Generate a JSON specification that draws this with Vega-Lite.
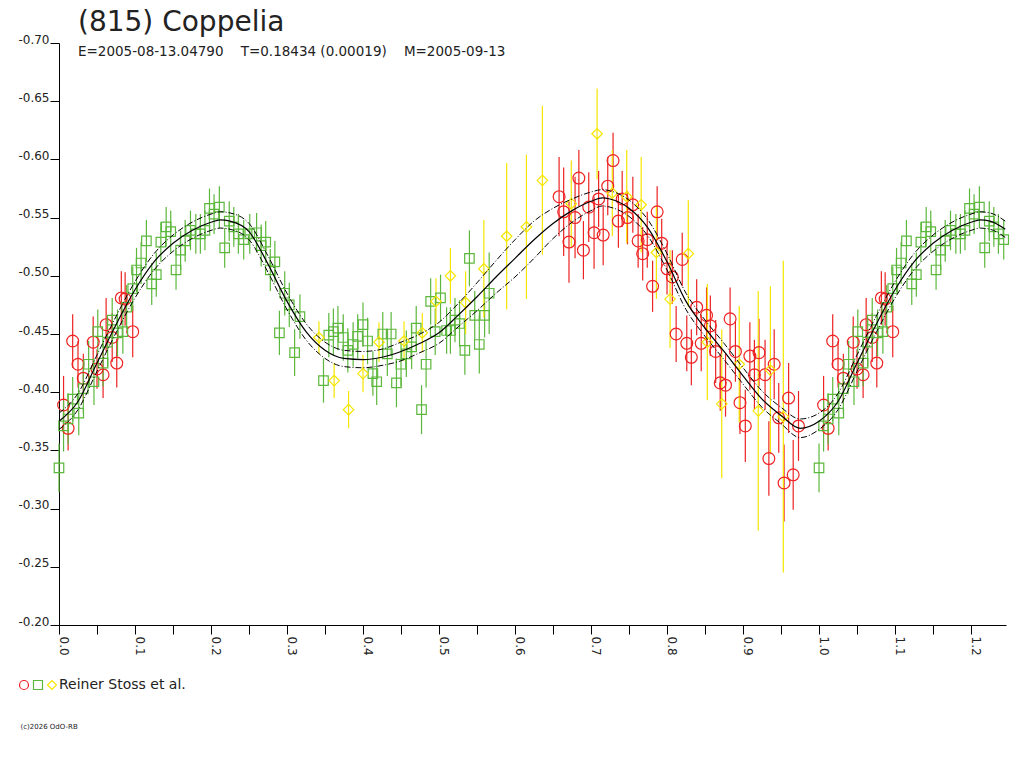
{
  "$schema": "https://vega.github.io/schema/vega-lite/v6.json",
  "width": 947,
  "height": 582,
  "autosize": "none",
  "padding": {"left": 59, "top": 43, "right": 18, "bottom": 143},
  "background": "white",
  "config": {
    "view": {"stroke": null},
    "font": "DejaVu Sans",
    "axis": {
      "domainColor": "#000",
      "tickColor": "#000",
      "labelColor": "#222",
      "labelFont": "DejaVu Sans",
      "labelFontSize": 12,
      "grid": false,
      "labelOverlap": false,
      "labelFlush": false
    },
    "legend": {
      "orient": "none",
      "legendX": -42,
      "legendY": 635,
      "direction": "horizontal",
      "labelFont": "DejaVu Sans",
      "labelFontSize": 14,
      "labelColor": "#222",
      "labelOffset": 0,
      "columnPadding": -3,
      "symbolSize": 81,
      "symbolStrokeWidth": 1.2,
      "padding": 0
    }
  },
  "title": {
    "text": "(815) Coppelia",
    "subtitle": "E=2005-08-13.04790\u00a0\u00a0\u00a0\u00a0T=0.18434 (0.00019)\u00a0\u00a0\u00a0\u00a0M=2005-09-13",
    "anchor": "start",
    "frame": "group",
    "dx": 19,
    "offset": -25,
    "font": "DejaVu Sans",
    "subtitleFont": "DejaVu Sans",
    "fontSize": 28,
    "subtitleFontSize": 13.5,
    "fontWeight": "normal",
    "color": "#222",
    "subtitleColor": "#222",
    "subtitlePadding": 8
  },
  "datasets": {
    "obs": [
      {"p": 0.006, "m": -0.389, "e": 0.025, "s": "a"},
      {"p": 0.012, "m": -0.369, "e": 0.019, "s": "a"},
      {"p": 0.018, "m": -0.444, "e": 0.023, "s": "a"},
      {"p": 0.025, "m": -0.424, "e": 0.020, "s": "a"},
      {"p": 0.032, "m": -0.412, "e": 0.021, "s": "a"},
      {"p": 0.045, "m": -0.443, "e": 0.022, "s": "a"},
      {"p": 0.050, "m": -0.420, "e": 0.017, "s": "a"},
      {"p": 0.058, "m": -0.415, "e": 0.020, "s": "a"},
      {"p": 0.062, "m": -0.458, "e": 0.023, "s": "a"},
      {"p": 0.070, "m": -0.447, "e": 0.021, "s": "a"},
      {"p": 0.076, "m": -0.425, "e": 0.021, "s": "a"},
      {"p": 0.082, "m": -0.481, "e": 0.023, "s": "a"},
      {"p": 0.087, "m": -0.480, "e": 0.023, "s": "a"},
      {"p": 0.097, "m": -0.452, "e": 0.022, "s": "a"},
      {"p": 0.658, "m": -0.568, "e": 0.034, "s": "a"},
      {"p": 0.664, "m": -0.555, "e": 0.038, "s": "a"},
      {"p": 0.671, "m": -0.529, "e": 0.035, "s": "a"},
      {"p": 0.679, "m": -0.550, "e": 0.035, "s": "a"},
      {"p": 0.684, "m": -0.584, "e": 0.024, "s": "a"},
      {"p": 0.690, "m": -0.522, "e": 0.025, "s": "a"},
      {"p": 0.697, "m": -0.559, "e": 0.030, "s": "a"},
      {"p": 0.704, "m": -0.537, "e": 0.031, "s": "a"},
      {"p": 0.710, "m": -0.566, "e": 0.024, "s": "a"},
      {"p": 0.716, "m": -0.535, "e": 0.026, "s": "a"},
      {"p": 0.722, "m": -0.577, "e": 0.025, "s": "a"},
      {"p": 0.729, "m": -0.599, "e": 0.024, "s": "a"},
      {"p": 0.736, "m": -0.547, "e": 0.023, "s": "a"},
      {"p": 0.741, "m": -0.566, "e": 0.024, "s": "a"},
      {"p": 0.748, "m": -0.550, "e": 0.023, "s": "a"},
      {"p": 0.755, "m": -0.561, "e": 0.024, "s": "a"},
      {"p": 0.762, "m": -0.530, "e": 0.023, "s": "a"},
      {"p": 0.768, "m": -0.519, "e": 0.023, "s": "a"},
      {"p": 0.774, "m": -0.531, "e": 0.024, "s": "a"},
      {"p": 0.781, "m": -0.491, "e": 0.022, "s": "a"},
      {"p": 0.787, "m": -0.555, "e": 0.022, "s": "a"},
      {"p": 0.793, "m": -0.528, "e": 0.021, "s": "a"},
      {"p": 0.800, "m": -0.506, "e": 0.022, "s": "a"},
      {"p": 0.807, "m": -0.499, "e": 0.023, "s": "a"},
      {"p": 0.812, "m": -0.450, "e": 0.024, "s": "a"},
      {"p": 0.820, "m": -0.514, "e": 0.023, "s": "a"},
      {"p": 0.826, "m": -0.442, "e": 0.024, "s": "a"},
      {"p": 0.832, "m": -0.430, "e": 0.024, "s": "a"},
      {"p": 0.839, "m": -0.473, "e": 0.024, "s": "a"},
      {"p": 0.845, "m": -0.442, "e": 0.024, "s": "a"},
      {"p": 0.852, "m": -0.466, "e": 0.024, "s": "a"},
      {"p": 0.857, "m": -0.457, "e": 0.026, "s": "a"},
      {"p": 0.864, "m": -0.435, "e": 0.027, "s": "a"},
      {"p": 0.870, "m": -0.408, "e": 0.024, "s": "a"},
      {"p": 0.877, "m": -0.406, "e": 0.027, "s": "a"},
      {"p": 0.883, "m": -0.463, "e": 0.027, "s": "a"},
      {"p": 0.890, "m": -0.435, "e": 0.026, "s": "a"},
      {"p": 0.896, "m": -0.391, "e": 0.027, "s": "a"},
      {"p": 0.903, "m": -0.371, "e": 0.031, "s": "a"},
      {"p": 0.909, "m": -0.431, "e": 0.029, "s": "a"},
      {"p": 0.915, "m": -0.415, "e": 0.030, "s": "a"},
      {"p": 0.921, "m": -0.434, "e": 0.029, "s": "a"},
      {"p": 0.929, "m": -0.415, "e": 0.030, "s": "a"},
      {"p": 0.934, "m": -0.343, "e": 0.032, "s": "a"},
      {"p": 0.941, "m": -0.424, "e": 0.030, "s": "a"},
      {"p": 0.947, "m": -0.378, "e": 0.030, "s": "a"},
      {"p": 0.954, "m": -0.322, "e": 0.033, "s": "a"},
      {"p": 0.960, "m": -0.395, "e": 0.030, "s": "a"},
      {"p": 0.966, "m": -0.329, "e": 0.030, "s": "a"},
      {"p": 0.973, "m": -0.371, "e": 0.030, "s": "a"},
      {"p": 1.006, "m": -0.389, "e": 0.025, "s": "a"},
      {"p": 1.012, "m": -0.369, "e": 0.019, "s": "a"},
      {"p": 1.018, "m": -0.444, "e": 0.023, "s": "a"},
      {"p": 1.025, "m": -0.424, "e": 0.020, "s": "a"},
      {"p": 1.032, "m": -0.412, "e": 0.021, "s": "a"},
      {"p": 1.045, "m": -0.443, "e": 0.022, "s": "a"},
      {"p": 1.050, "m": -0.420, "e": 0.017, "s": "a"},
      {"p": 1.058, "m": -0.415, "e": 0.020, "s": "a"},
      {"p": 1.062, "m": -0.458, "e": 0.023, "s": "a"},
      {"p": 1.070, "m": -0.447, "e": 0.021, "s": "a"},
      {"p": 1.076, "m": -0.425, "e": 0.021, "s": "a"},
      {"p": 1.082, "m": -0.481, "e": 0.023, "s": "a"},
      {"p": 1.087, "m": -0.480, "e": 0.023, "s": "a"},
      {"p": 1.097, "m": -0.452, "e": 0.022, "s": "a"},
      {"p": 0.000, "m": -0.335, "e": 0.021, "s": "b"},
      {"p": 0.006, "m": -0.371, "e": 0.022, "s": "b"},
      {"p": 0.012, "m": -0.377, "e": 0.022, "s": "b"},
      {"p": 0.018, "m": -0.394, "e": 0.019, "s": "b"},
      {"p": 0.026, "m": -0.382, "e": 0.019, "s": "b"},
      {"p": 0.032, "m": -0.403, "e": 0.021, "s": "b"},
      {"p": 0.039, "m": -0.424, "e": 0.020, "s": "b"},
      {"p": 0.046, "m": -0.409, "e": 0.020, "s": "b"},
      {"p": 0.051, "m": -0.452, "e": 0.019, "s": "b"},
      {"p": 0.058, "m": -0.425, "e": 0.020, "s": "b"},
      {"p": 0.064, "m": -0.443, "e": 0.021, "s": "b"},
      {"p": 0.070, "m": -0.462, "e": 0.019, "s": "b"},
      {"p": 0.077, "m": -0.451, "e": 0.020, "s": "b"},
      {"p": 0.084, "m": -0.452, "e": 0.019, "s": "b"},
      {"p": 0.089, "m": -0.473, "e": 0.019, "s": "b"},
      {"p": 0.097, "m": -0.489, "e": 0.019, "s": "b"},
      {"p": 0.102, "m": -0.505, "e": 0.019, "s": "b"},
      {"p": 0.108, "m": -0.511, "e": 0.018, "s": "b"},
      {"p": 0.115, "m": -0.530, "e": 0.018, "s": "b"},
      {"p": 0.122, "m": -0.493, "e": 0.018, "s": "b"},
      {"p": 0.128, "m": -0.501, "e": 0.019, "s": "b"},
      {"p": 0.134, "m": -0.529, "e": 0.017, "s": "b"},
      {"p": 0.141, "m": -0.542, "e": 0.017, "s": "b"},
      {"p": 0.147, "m": -0.538, "e": 0.018, "s": "b"},
      {"p": 0.154, "m": -0.505, "e": 0.017, "s": "b"},
      {"p": 0.160, "m": -0.522, "e": 0.017, "s": "b"},
      {"p": 0.166, "m": -0.530, "e": 0.018, "s": "b"},
      {"p": 0.173, "m": -0.539, "e": 0.017, "s": "b"},
      {"p": 0.180, "m": -0.536, "e": 0.017, "s": "b"},
      {"p": 0.186, "m": -0.536, "e": 0.017, "s": "b"},
      {"p": 0.192, "m": -0.539, "e": 0.017, "s": "b"},
      {"p": 0.198, "m": -0.558, "e": 0.017, "s": "b"},
      {"p": 0.204, "m": -0.553, "e": 0.017, "s": "b"},
      {"p": 0.211, "m": -0.559, "e": 0.018, "s": "b"},
      {"p": 0.218, "m": -0.524, "e": 0.017, "s": "b"},
      {"p": 0.224, "m": -0.547, "e": 0.017, "s": "b"},
      {"p": 0.230, "m": -0.542, "e": 0.017, "s": "b"},
      {"p": 0.236, "m": -0.536, "e": 0.017, "s": "b"},
      {"p": 0.243, "m": -0.531, "e": 0.017, "s": "b"},
      {"p": 0.251, "m": -0.536, "e": 0.017, "s": "b"},
      {"p": 0.260, "m": -0.537, "e": 0.017, "s": "b"},
      {"p": 0.266, "m": -0.526, "e": 0.018, "s": "b"},
      {"p": 0.272, "m": -0.529, "e": 0.018, "s": "b"},
      {"p": 0.278, "m": -0.505, "e": 0.018, "s": "b"},
      {"p": 0.284, "m": -0.512, "e": 0.018, "s": "b"},
      {"p": 0.290, "m": -0.451, "e": 0.019, "s": "b"},
      {"p": 0.297, "m": -0.485, "e": 0.019, "s": "b"},
      {"p": 0.303, "m": -0.475, "e": 0.019, "s": "b"},
      {"p": 0.310, "m": -0.434, "e": 0.020, "s": "b"},
      {"p": 0.317, "m": -0.465, "e": 0.019, "s": "b"},
      {"p": 0.348, "m": -0.410, "e": 0.019, "s": "b"},
      {"p": 0.355, "m": -0.449, "e": 0.019, "s": "b"},
      {"p": 0.361, "m": -0.452, "e": 0.020, "s": "b"},
      {"p": 0.367, "m": -0.455, "e": 0.019, "s": "b"},
      {"p": 0.374, "m": -0.447, "e": 0.020, "s": "b"},
      {"p": 0.380, "m": -0.436, "e": 0.019, "s": "b"},
      {"p": 0.387, "m": -0.441, "e": 0.019, "s": "b"},
      {"p": 0.393, "m": -0.448, "e": 0.019, "s": "b"},
      {"p": 0.400, "m": -0.458, "e": 0.019, "s": "b"},
      {"p": 0.406, "m": -0.444, "e": 0.020, "s": "b"},
      {"p": 0.413, "m": -0.416, "e": 0.019, "s": "b"},
      {"p": 0.418, "m": -0.409, "e": 0.020, "s": "b"},
      {"p": 0.426, "m": -0.450, "e": 0.019, "s": "b"},
      {"p": 0.432, "m": -0.433, "e": 0.019, "s": "b"},
      {"p": 0.437, "m": -0.450, "e": 0.019, "s": "b"},
      {"p": 0.444, "m": -0.408, "e": 0.021, "s": "b"},
      {"p": 0.450, "m": -0.424, "e": 0.019, "s": "b"},
      {"p": 0.457, "m": -0.433, "e": 0.020, "s": "b"},
      {"p": 0.464, "m": -0.439, "e": 0.019, "s": "b"},
      {"p": 0.470, "m": -0.455, "e": 0.019, "s": "b"},
      {"p": 0.477, "m": -0.385, "e": 0.021, "s": "b"},
      {"p": 0.483, "m": -0.424, "e": 0.020, "s": "b"},
      {"p": 0.489, "m": -0.478, "e": 0.020, "s": "b"},
      {"p": 0.495, "m": -0.452, "e": 0.020, "s": "b"},
      {"p": 0.502, "m": -0.481, "e": 0.020, "s": "b"},
      {"p": 0.510, "m": -0.453, "e": 0.020, "s": "b"},
      {"p": 0.515, "m": -0.453, "e": 0.020, "s": "b"},
      {"p": 0.521, "m": -0.462, "e": 0.019, "s": "b"},
      {"p": 0.527, "m": -0.459, "e": 0.020, "s": "b"},
      {"p": 0.534, "m": -0.436, "e": 0.021, "s": "b"},
      {"p": 0.540, "m": -0.515, "e": 0.024, "s": "b"},
      {"p": 0.547, "m": -0.466, "e": 0.021, "s": "b"},
      {"p": 0.553, "m": -0.441, "e": 0.025, "s": "b"},
      {"p": 0.560, "m": -0.466, "e": 0.019, "s": "b"},
      {"p": 0.566, "m": -0.485, "e": 0.035, "s": "b"},
      {"p": 1.000, "m": -0.335, "e": 0.021, "s": "b"},
      {"p": 1.006, "m": -0.371, "e": 0.022, "s": "b"},
      {"p": 1.012, "m": -0.377, "e": 0.022, "s": "b"},
      {"p": 1.018, "m": -0.394, "e": 0.019, "s": "b"},
      {"p": 1.026, "m": -0.382, "e": 0.019, "s": "b"},
      {"p": 1.032, "m": -0.403, "e": 0.021, "s": "b"},
      {"p": 1.039, "m": -0.424, "e": 0.020, "s": "b"},
      {"p": 1.046, "m": -0.409, "e": 0.020, "s": "b"},
      {"p": 1.051, "m": -0.452, "e": 0.019, "s": "b"},
      {"p": 1.058, "m": -0.425, "e": 0.020, "s": "b"},
      {"p": 1.064, "m": -0.443, "e": 0.021, "s": "b"},
      {"p": 1.070, "m": -0.462, "e": 0.019, "s": "b"},
      {"p": 1.077, "m": -0.451, "e": 0.020, "s": "b"},
      {"p": 1.084, "m": -0.452, "e": 0.019, "s": "b"},
      {"p": 1.089, "m": -0.473, "e": 0.019, "s": "b"},
      {"p": 1.097, "m": -0.489, "e": 0.019, "s": "b"},
      {"p": 1.102, "m": -0.505, "e": 0.019, "s": "b"},
      {"p": 1.108, "m": -0.511, "e": 0.018, "s": "b"},
      {"p": 1.115, "m": -0.530, "e": 0.018, "s": "b"},
      {"p": 1.122, "m": -0.493, "e": 0.018, "s": "b"},
      {"p": 1.128, "m": -0.501, "e": 0.019, "s": "b"},
      {"p": 1.134, "m": -0.529, "e": 0.017, "s": "b"},
      {"p": 1.141, "m": -0.542, "e": 0.017, "s": "b"},
      {"p": 1.147, "m": -0.538, "e": 0.018, "s": "b"},
      {"p": 1.154, "m": -0.505, "e": 0.017, "s": "b"},
      {"p": 1.160, "m": -0.522, "e": 0.017, "s": "b"},
      {"p": 1.166, "m": -0.530, "e": 0.018, "s": "b"},
      {"p": 1.173, "m": -0.539, "e": 0.017, "s": "b"},
      {"p": 1.180, "m": -0.536, "e": 0.017, "s": "b"},
      {"p": 1.186, "m": -0.536, "e": 0.017, "s": "b"},
      {"p": 1.192, "m": -0.539, "e": 0.017, "s": "b"},
      {"p": 1.198, "m": -0.558, "e": 0.017, "s": "b"},
      {"p": 1.204, "m": -0.553, "e": 0.017, "s": "b"},
      {"p": 1.211, "m": -0.559, "e": 0.018, "s": "b"},
      {"p": 1.218, "m": -0.524, "e": 0.017, "s": "b"},
      {"p": 1.224, "m": -0.547, "e": 0.017, "s": "b"},
      {"p": 1.230, "m": -0.542, "e": 0.017, "s": "b"},
      {"p": 1.236, "m": -0.536, "e": 0.017, "s": "b"},
      {"p": 1.243, "m": -0.531, "e": 0.017, "s": "b"},
      {"p": 0.342, "m": -0.447, "e": 0.014, "s": "c"},
      {"p": 0.362, "m": -0.410, "e": 0.015, "s": "c"},
      {"p": 0.381, "m": -0.385, "e": 0.016, "s": "c"},
      {"p": 0.400, "m": -0.416, "e": 0.016, "s": "c"},
      {"p": 0.421, "m": -0.443, "e": 0.017, "s": "c"},
      {"p": 0.454, "m": -0.444, "e": 0.017, "s": "c"},
      {"p": 0.478, "m": -0.451, "e": 0.017, "s": "c"},
      {"p": 0.496, "m": -0.478, "e": 0.020, "s": "c"},
      {"p": 0.515, "m": -0.500, "e": 0.024, "s": "c"},
      {"p": 0.535, "m": -0.477, "e": 0.027, "s": "c"},
      {"p": 0.559, "m": -0.506, "e": 0.042, "s": "c"},
      {"p": 0.589, "m": -0.534, "e": 0.063, "s": "c"},
      {"p": 0.615, "m": -0.542, "e": 0.062, "s": "c"},
      {"p": 0.636, "m": -0.582, "e": 0.064, "s": "c"},
      {"p": 0.674, "m": -0.562, "e": 0.037, "s": "c"},
      {"p": 0.708, "m": -0.622, "e": 0.039, "s": "c"},
      {"p": 0.728, "m": -0.571, "e": 0.037, "s": "c"},
      {"p": 0.747, "m": -0.568, "e": 0.040, "s": "c"},
      {"p": 0.766, "m": -0.561, "e": 0.041, "s": "c"},
      {"p": 0.786, "m": -0.520, "e": 0.040, "s": "c"},
      {"p": 0.804, "m": -0.480, "e": 0.042, "s": "c"},
      {"p": 0.828, "m": -0.519, "e": 0.046, "s": "c"},
      {"p": 0.853, "m": -0.443, "e": 0.050, "s": "c"},
      {"p": 0.872, "m": -0.390, "e": 0.064, "s": "c"},
      {"p": 0.895, "m": -0.424, "e": 0.050, "s": "c"},
      {"p": 0.920, "m": -0.384, "e": 0.103, "s": "c"},
      {"p": 0.936, "m": -0.419, "e": 0.072, "s": "c"},
      {"p": 0.953, "m": -0.379, "e": 0.134, "s": "c"}
    ],
    "fit": [
      {"p": 0.000, "m": -0.375, "u": -0.382, "l": -0.368},
      {"p": 0.025, "m": -0.392, "u": -0.399, "l": -0.385},
      {"p": 0.050, "m": -0.425, "u": -0.432, "l": -0.418},
      {"p": 0.075, "m": -0.458, "u": -0.465, "l": -0.451},
      {"p": 0.100, "m": -0.488, "u": -0.495, "l": -0.481},
      {"p": 0.125, "m": -0.512, "u": -0.519, "l": -0.505},
      {"p": 0.150, "m": -0.528, "u": -0.535, "l": -0.521},
      {"p": 0.175, "m": -0.539, "u": -0.546, "l": -0.532},
      {"p": 0.200, "m": -0.546, "u": -0.553, "l": -0.539},
      {"p": 0.212, "m": -0.548, "u": -0.555, "l": -0.541},
      {"p": 0.225, "m": -0.547, "u": -0.554, "l": -0.540},
      {"p": 0.250, "m": -0.538, "u": -0.545, "l": -0.531},
      {"p": 0.275, "m": -0.510, "u": -0.517, "l": -0.503},
      {"p": 0.300, "m": -0.478, "u": -0.485, "l": -0.471},
      {"p": 0.325, "m": -0.452, "u": -0.459, "l": -0.445},
      {"p": 0.350, "m": -0.436, "u": -0.443, "l": -0.429},
      {"p": 0.375, "m": -0.429, "u": -0.436, "l": -0.422},
      {"p": 0.400, "m": -0.428, "u": -0.435, "l": -0.421},
      {"p": 0.425, "m": -0.430, "u": -0.437, "l": -0.423},
      {"p": 0.450, "m": -0.435, "u": -0.443, "l": -0.427},
      {"p": 0.475, "m": -0.442, "u": -0.450, "l": -0.434},
      {"p": 0.500, "m": -0.451, "u": -0.460, "l": -0.442},
      {"p": 0.525, "m": -0.466, "u": -0.476, "l": -0.456},
      {"p": 0.550, "m": -0.482, "u": -0.494, "l": -0.470},
      {"p": 0.575, "m": -0.499, "u": -0.513, "l": -0.485},
      {"p": 0.600, "m": -0.515, "u": -0.531, "l": -0.499},
      {"p": 0.625, "m": -0.531, "u": -0.547, "l": -0.515},
      {"p": 0.650, "m": -0.545, "u": -0.558, "l": -0.532},
      {"p": 0.675, "m": -0.556, "u": -0.566, "l": -0.546},
      {"p": 0.700, "m": -0.564, "u": -0.572, "l": -0.556},
      {"p": 0.715, "m": -0.567, "u": -0.574, "l": -0.560},
      {"p": 0.725, "m": -0.566, "u": -0.573, "l": -0.559},
      {"p": 0.750, "m": -0.558, "u": -0.565, "l": -0.551},
      {"p": 0.775, "m": -0.541, "u": -0.548, "l": -0.534},
      {"p": 0.800, "m": -0.512, "u": -0.519, "l": -0.505},
      {"p": 0.825, "m": -0.478, "u": -0.485, "l": -0.471},
      {"p": 0.850, "m": -0.455, "u": -0.462, "l": -0.448},
      {"p": 0.875, "m": -0.435, "u": -0.442, "l": -0.428},
      {"p": 0.900, "m": -0.414, "u": -0.421, "l": -0.407},
      {"p": 0.925, "m": -0.394, "u": -0.401, "l": -0.387},
      {"p": 0.950, "m": -0.380, "u": -0.387, "l": -0.373},
      {"p": 0.975, "m": -0.369, "u": -0.377, "l": -0.361},
      {"p": 1.000, "m": -0.375, "u": -0.382, "l": -0.368},
      {"p": 1.025, "m": -0.392, "u": -0.399, "l": -0.385},
      {"p": 1.050, "m": -0.425, "u": -0.432, "l": -0.418},
      {"p": 1.075, "m": -0.458, "u": -0.465, "l": -0.451},
      {"p": 1.100, "m": -0.488, "u": -0.495, "l": -0.481},
      {"p": 1.125, "m": -0.512, "u": -0.519, "l": -0.505},
      {"p": 1.150, "m": -0.528, "u": -0.535, "l": -0.521},
      {"p": 1.175, "m": -0.539, "u": -0.546, "l": -0.532},
      {"p": 1.200, "m": -0.546, "u": -0.553, "l": -0.539},
      {"p": 1.212, "m": -0.548, "u": -0.555, "l": -0.541},
      {"p": 1.225, "m": -0.547, "u": -0.554, "l": -0.540},
      {"p": 1.245, "m": -0.540, "u": -0.547, "l": -0.533}
    ]
  },
  "encoding": {
    "x": {
      "field": "p",
      "type": "quantitative",
      "scale": {"domain": [0, 1.246], "nice": false, "zero": false},
      "axis": {
        "values": [0, 0.05, 0.1, 0.15, 0.2, 0.25, 0.3, 0.35, 0.4, 0.45, 0.5, 0.55, 0.6, 0.65, 0.7, 0.75, 0.8, 0.85, 0.9, 0.95, 1.0, 1.05, 1.1, 1.15, 1.2],
        "labelExpr": "round(datum.value * 100) % 10 == 0 ? format(datum.value, '.1f') : ''",
        "labelAngle": 90,
        "labelAlign": "left",
        "labelBaseline": "alphabetic",
        "labelPadding": 2,
        "tickSize": 9,
        "title": "(c)2026 OdO-RB",
        "titleX": -39,
        "titleY": 103,
        "titleAlign": "left",
        "titleAnchor": "start",
        "titleBaseline": "alphabetic",
        "titleFontSize": 7,
        "titleFontWeight": "normal",
        "titleColor": "#222"
      }
    },
    "y": {
      "field": "m",
      "type": "quantitative",
      "scale": {"domain": [-0.7, -0.2], "nice": false, "zero": false, "reverse": true},
      "axis": {
        "values": [-0.7, -0.65, -0.6, -0.55, -0.5, -0.45, -0.4, -0.35, -0.3, -0.25, -0.2],
        "labelExpr": "'-' + format(abs(datum.value), '.2f')",
        "tickSize": 9,
        "labelPadding": 1,
        "labelBaseline": "alphabetic",
        "title": null
      }
    }
  },
  "layer": [
    {
      "data": {"name": "obs"},
      "mark": {"type": "errorbar", "thickness": 1.2},
      "encoding": {
        "yError": {"field": "e"},
        "color": {
          "field": "s",
          "type": "nominal",
          "scale": {"domain": ["a", "b", "c"], "range": ["#ee2222", "#5cb83c", "#f5e600"]},
          "legend": {"title": null, "labelExpr": "datum.label == 'c' ? '\u00a0Reiner Stoss et al.' : ''"}
        }
      }
    },
    {
      "data": {"name": "obs"},
      "transform": [{"filter": "datum.s == 'a'"}],
      "mark": {"type": "point", "filled": false, "strokeWidth": 1.2, "opacity": 1, "size": 140},
      "encoding": {
        "color": {"field": "s", "type": "nominal"},
        "shape": {
          "field": "s",
          "type": "nominal",
          "scale": {"domain": ["a", "b", "c"], "range": ["circle", "square", "diamond"]},
          "legend": {"title": null, "labelExpr": "datum.label == 'c' ? '\u00a0Reiner Stoss et al.' : ''"}
        }
      }
    },
    {
      "data": {"name": "obs"},
      "transform": [{"filter": "datum.s == 'b'"}],
      "mark": {"type": "point", "filled": false, "strokeWidth": 1.2, "opacity": 1, "size": 90},
      "encoding": {
        "color": {"field": "s", "type": "nominal"},
        "shape": {"field": "s", "type": "nominal"}
      }
    },
    {
      "data": {"name": "obs"},
      "transform": [{"filter": "datum.s == 'c'"}],
      "mark": {"type": "point", "filled": false, "strokeWidth": 1.2, "opacity": 1, "size": 110},
      "encoding": {
        "color": {"field": "s", "type": "nominal"},
        "shape": {"field": "s", "type": "nominal"}
      }
    },
    {
      "data": {"name": "fit"},
      "mark": {"type": "line", "color": "#000", "strokeWidth": 1.2, "interpolate": "monotone"},
      "encoding": {"y": {"field": "m", "type": "quantitative"}}
    },
    {
      "data": {"name": "fit"},
      "mark": {"type": "line", "color": "#000", "strokeWidth": 1, "strokeDash": [6, 2, 1, 2], "interpolate": "monotone"},
      "encoding": {"y": {"field": "u", "type": "quantitative"}}
    },
    {
      "data": {"name": "fit"},
      "mark": {"type": "line", "color": "#000", "strokeWidth": 1, "strokeDash": [6, 2, 1, 2], "interpolate": "monotone"},
      "encoding": {"y": {"field": "l", "type": "quantitative"}}
    }
  ]
}
